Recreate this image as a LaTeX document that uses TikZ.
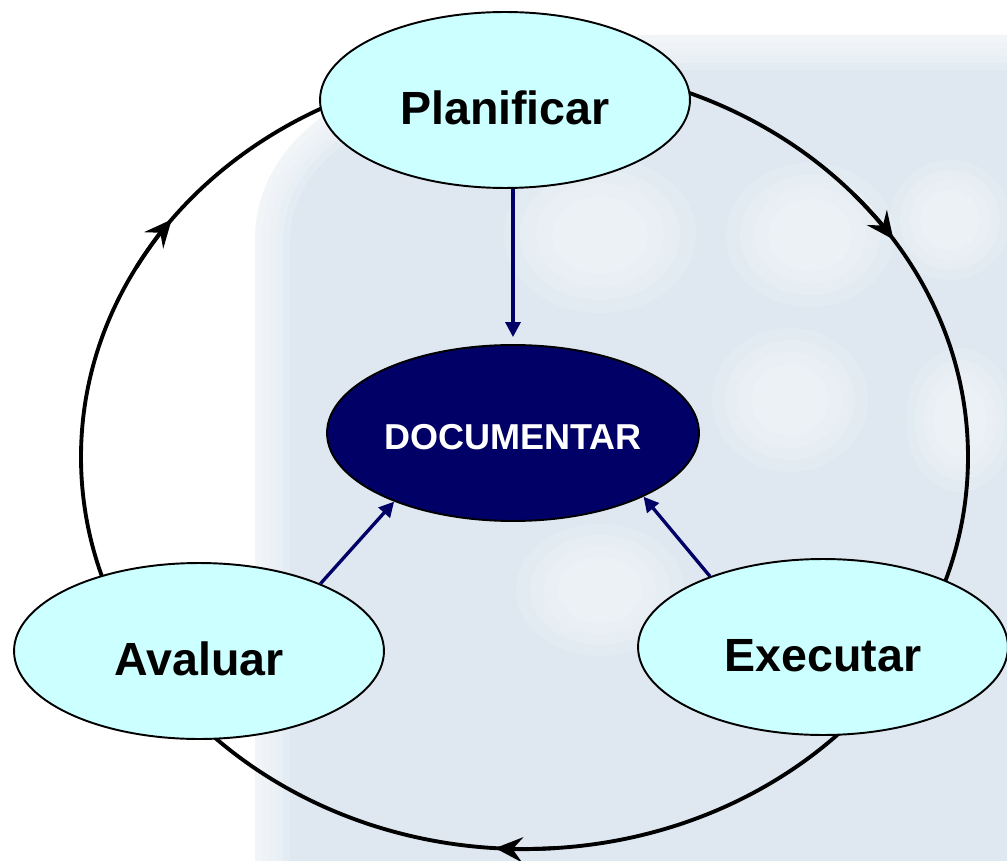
\documentclass[tikz,border=0pt]{standalone}
\usepackage{fontspec}
\setmainfont{Liberation Sans}
\usetikzlibrary{shapes.geometric}
\usetikzlibrary{arrows.meta}

\definecolor{cyanfill}{HTML}{CCFFFF}
\definecolor{navy}{HTML}{000066}
\definecolor{wmark}{HTML}{DFE8F1}

\tikzset{
    phase/.style={ellipse, draw=black, line width=1.1pt, fill=cyanfill,
        minimum width=7.4cm, minimum height=3.52cm, inner sep=0pt,
        text height=28pt, text depth=0pt,
        font=\fontsize{26.5}{30}\selectfont\bfseries},
    docu/.style={ellipse, draw=black, line width=1.1pt, fill=navy, text=white,
        minimum width=7.44cm, minimum height=3.52cm, inner sep=0pt,
        text height=19pt, text depth=0pt,
        font=\fontsize{20.5}{24}\selectfont\bfseries},
    ring/.style={line width=2.2pt, black},
    feed/.style={line width=1.9pt, navy, -{Triangle[length=0.3cm,width=0.3cm]}},
}

\begin{document}
\begin{tikzpicture}[x=0.02cm,y=-0.02cm]
                \useasboundingbox (0,0) rectangle (1007,861);

                % faint background
                \fill[wmark] (255,861) -- (255,240) .. controls (255,110) and (420,38) .. (650,35) -- (1007,35) -- (1007,861) -- cycle;
                \foreach \w in {8,16,24,32,40}
                    \draw[white, opacity=0.18, line width=\w] (255,880) -- (255,240) .. controls (255,110) and (420,38) .. (650,35) -- (1020,35);
                \foreach \x/\y/\rx/\ry in {600/235/80/65, 810/235/70/60, 790/400/65/60, 960/420/45/60, 600/590/70/55, 950/220/50/50} {
                    \foreach \k in {1.2,1.0,0.8,0.6}
                        \fill[white, opacity=0.14] (\x,\y) ellipse [x radius=\k*\rx, y radius=\k*\ry];
                }

                \coordinate (c) at (524.5,457);

                % cycle
                \draw[ring] (c) ellipse [x radius=443.5, y radius=392];
                \foreach \a/\b in {318/326.3, 86/93.8, 209/217.3} {
                    \draw[ring, -{Stealth[length=0.55cm,width=0.5cm,inset=0.2cm]}]
                        (c) ++(\a:443.5 and 392) arc[start angle=\a, end angle=\b, x radius=443.5, y radius=392];
                }

                \node[phase] (pla) at (505,100) {Planificar};
                \node[docu] (doc) at (513,433) {DOCUMENTAR};
                \node[phase] (exe) at (823,647) {Executar};
                \node[phase] (ava) at (199,651) {Avaluar};

                \draw[feed, shorten >=0.14cm] (pla.south -| doc.north) -- (doc.north);
                \draw[feed] (ava.29) -- (doc.210);
                \draw[feed] (exe.148) -- (doc.-26);
            \end{tikzpicture}
\end{document}
